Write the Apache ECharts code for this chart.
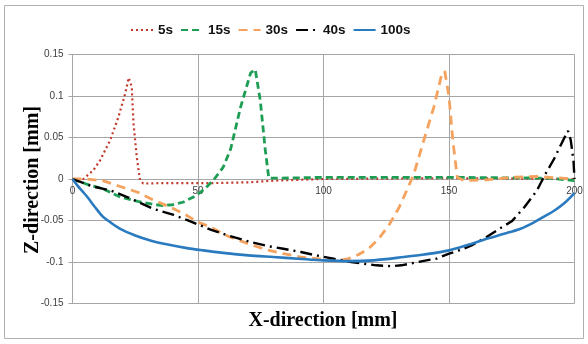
<!DOCTYPE html>
<html><head><meta charset="utf-8">
<script src="https://cdn.jsdelivr.net/npm/echarts@6/dist/echarts.min.js"></script>
<style>html,body{margin:0;padding:0;background:#fff}#c{width:588px;height:344px}</style>
</head><body><div id="c"></div>
<script>
var seriesNames = ['5s', '15s', '30s', '40s', '100s'];
var xTicks = [0, 50, 100, 150, 200];
var yTicks = [-0.15, -0.1, -0.05, 0, 0.05, 0.1, 0.15];

var s5X = [0, 4.3, 8.3, 11, 15, 18.3, 21, 22.4, 23.6, 24.3, 25.6, 26.9, 28.2, 35, 45, 55, 70, 80, 100, 150, 200];
var s5Y = [0, 0.0, 0.0105, 0.0225, 0.0467, 0.0747, 0.103, 0.122, 0.111, 0.067, 0.0265, -0.0016, -0.0055, -0.005, -0.005, -0.005, -0.004, -0.002, 0.0, 0.001, 0.0];

var s15X = [0, 7, 12, 19, 26, 32, 36, 40, 44, 48, 51, 54, 56.5, 60, 63, 67, 71, 72.8, 74.8, 76.8, 78.2, 82, 100, 150, 190, 200];
var s15Y = [0, -0.0076, -0.0116, -0.0217, -0.027, -0.0305, -0.032, -0.031, -0.028, -0.022, -0.016, -0.008, 0.0, 0.014, 0.036, 0.087, 0.128, 0.132, 0.095, 0.035, 0.001, 0.001, 0.002, 0.002, 0.001, -0.002];

var s30X = [0, 5, 12, 19, 26, 32, 39, 45, 50, 55, 62, 70, 77, 84, 91, 100, 106, 110, 114, 118, 122, 126, 130, 133, 136, 140, 144, 147, 148.3, 150, 151.5, 153.3, 156, 165, 175, 185, 195, 200];
var s30Y = [0, 0, -0.002, -0.009, -0.016, -0.025, -0.034, -0.043, -0.052, -0.058, -0.069, -0.078, -0.085, -0.09, -0.094, -0.097, -0.098, -0.096, -0.091, -0.084, -0.072, -0.056, -0.035, -0.015, 0.006, 0.047, 0.087, 0.125, 0.13, 0.099, 0.047, 0.002, -0.002, -0.001, 0.002, 0.003, 0.001, 0.0];

var s40X = [0, 8, 15, 22, 32, 40, 46, 55, 62, 71, 78, 84, 91, 97, 104, 111, 116, 121, 127, 131, 136, 141, 145, 150, 155, 159, 165, 170, 175, 180, 185, 188.5, 192, 195.2, 197.4, 198.5, 199.6, 200];
var s40Y = [0, -0.009, -0.0136, -0.022, -0.0357, -0.043, -0.0498, -0.061, -0.068, -0.076, -0.081, -0.084, -0.088, -0.092, -0.096, -0.1, -0.102, -0.104, -0.105, -0.104, -0.101, -0.098, -0.096, -0.09, -0.085, -0.08, -0.07, -0.06, -0.051, -0.034, -0.014, 0.0065, 0.025, 0.045, 0.058, 0.047, 0.022, 0.0];

var s100X = [0, 2, 4, 6, 9, 12, 15, 19, 25, 31, 38, 45, 52, 60, 70, 80, 90, 100, 110, 120, 132, 140, 150, 158, 165, 172, 178.5, 184, 188, 192, 196, 200];
var s100Y = [0, -0.008, -0.015, -0.022, -0.034, -0.045, -0.052, -0.06, -0.068, -0.074, -0.079, -0.083, -0.086, -0.089, -0.092, -0.094, -0.096, -0.098, -0.099, -0.098, -0.094, -0.091, -0.086, -0.079, -0.072, -0.066, -0.06, -0.052, -0.045, -0.038, -0.029, -0.017];

function pairs(xs, ys) { return xs.map(function (x, i) { return [x, ys[i]]; }); }

var chart = echarts.init(document.getElementById('c'), null, {renderer: 'canvas'});
var gridColor = '#a6a6a6';
var labelFont = {color: '#404040', fontSize: 10, fontFamily: 'Liberation Sans'};
function mk(name, xs, ys, color, type, width, smooth) {
  return {
    name: name, type: 'line', data: pairs(xs, ys), showSymbol: false, symbol: 'none',
    smooth: smooth || false, animation: false,
    lineStyle: {color: color, width: width, type: type},
    itemStyle: {color: color}
  };
}
var gridTop = 54.5, gridBottom = 40.5, gridH = 344 - gridTop - gridBottom;
chart.setOption({
  animation: false,
  graphic: [
    {type: 'rect', shape: {x: 4.5, y: 5.5, width: 579, height: 333}, style: {fill: 'none', stroke: '#b0b0b0', lineWidth: 1}, z: -1},
    {type: 'text', x: 323, y: 321, style: {text: 'X-direction [mm]', font: 'bold 20px "Liberation Serif"', fill: '#000', textAlign: 'center', textVerticalAlign: 'middle'}},
    {type: 'text', x: 33, y: 180, rotation: Math.PI / 2, style: {text: 'Z-direction [mm]', font: 'bold 20px "Liberation Serif"', fill: '#000', textAlign: 'center', textVerticalAlign: 'middle'}}
  ],
  legend: {
    data: seriesNames, left: 125, top: 18, itemWidth: 22, itemHeight: 14, itemGap: 7,
    itemStyle: {opacity: 0},
    textStyle: {fontSize: 13.5, fontWeight: 'bold', fontFamily: 'Liberation Sans', color: '#111'}
  },
  grid: {left: 72.5, right: 13.5, top: gridTop, bottom: gridBottom, containLabel: false},
  xAxis: {
    type: 'value', min: xTicks[0], max: xTicks[xTicks.length - 1], interval: 50,
    offset: -gridH / 2,
    axisLine: {onZero: false, lineStyle: {color: gridColor, width: 1}},
    axisTick: {show: false},
    axisLabel: Object.assign({margin: 7}, labelFont),
    splitLine: {show: true, lineStyle: {color: gridColor, width: 1}}
  },
  yAxis: {
    type: 'value', min: yTicks[0], max: yTicks[yTicks.length - 1], interval: 0.05,
    axisLine: {show: true, lineStyle: {color: gridColor, width: 1}},
    axisTick: {show: true, length: 4, lineStyle: {color: gridColor}},
    axisLabel: Object.assign({margin: 9, formatter: function (v) { return String(Math.round(v * 100) / 100); }}, labelFont),
    splitLine: {show: true, lineStyle: {color: gridColor, width: 1}}
  },
  series: [
    mk('5s', s5X, s5Y, '#C0392B', [2, 3], 2.2),
    mk('15s', s15X, s15Y, '#1E9E55', [7, 4], 2.8),
    mk('30s', s30X, s30Y, '#F4A25E', [9, 6], 2.8),
    mk('40s', s40X, s40Y, '#000000', [12, 5, 2, 5], 2.4),
    mk('100s', s100X, s100Y, '#2A7AC0', 'solid', 2.6, 0.3)
  ]
});
</script></body></html>
